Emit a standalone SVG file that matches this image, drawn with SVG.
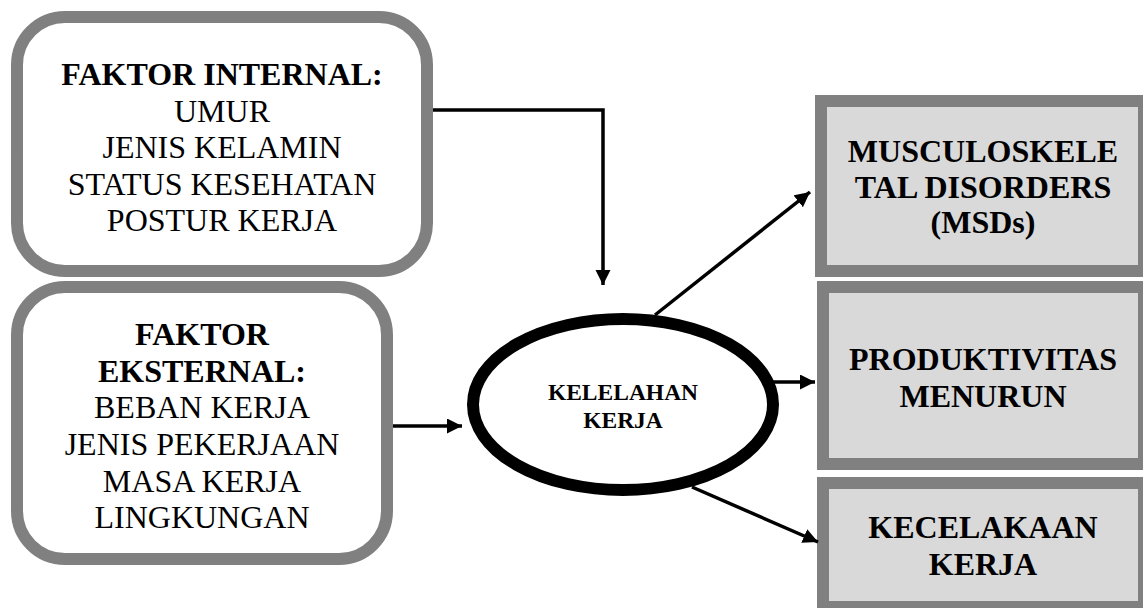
<svg xmlns="http://www.w3.org/2000/svg" width="1143" height="608" viewBox="0 0 1143 608">
<style>
.rbox{fill:#ffffff;stroke:#808080;stroke-width:12}
.sbox{fill:#d9d9d9;stroke:#808080;stroke-width:12}
text{font-family:'Liberation Serif','Times New Roman',serif;font-size:32px;fill:#000;text-anchor:middle}
.b{font-weight:bold}
.s{font-size:23.5px}
.conn{fill:none;stroke:#000;stroke-width:3.5}
</style>
<defs>
<marker id="arr" markerUnits="userSpaceOnUse" markerWidth="16" markerHeight="16" refX="15" refY="7.5" orient="auto">
<path d="M0,0 L15,7.5 L0,15 z" fill="#000"/>
</marker>
</defs>
<rect width="1143" height="608" fill="#fff"/>
<g id="internal">
<rect class="rbox" x="17" y="17" width="410" height="254" rx="48"/>
<text class="b" x="222" y="85">FAKTOR INTERNAL:</text>
<text x="222" y="122">UMUR</text>
<text x="222" y="158">JENIS KELAMIN</text>
<text x="222" y="195">STATUS KESEHATAN</text>
<text x="222" y="231">POSTUR KERJA</text>
</g>
<g id="external">
<rect class="rbox" x="17" y="287" width="370" height="272" rx="48"/>
<text class="b" x="202" y="345">FAKTOR</text>
<text class="b" x="202" y="382">EKSTERNAL:</text>
<text x="202" y="418">BEBAN KERJA</text>
<text x="202" y="455">JENIS PEKERJAAN</text>
<text x="202" y="492">MASA KERJA</text>
<text x="202" y="528">LINGKUNGAN</text>
</g>
<g id="kelelahan">
<ellipse cx="623" cy="404.5" rx="150" ry="85.5" fill="#fff" stroke="#000" stroke-width="12"/>
<text class="b s" x="623" y="400">KELELAHAN</text>
<text class="b s" x="623" y="428">KERJA</text>
</g>
<g id="msds">
<rect class="sbox" x="821" y="101" width="323" height="170"/>
<text class="b" x="983" y="162">MUSCULOSKELE</text>
<text class="b" x="983" y="198">TAL DISORDERS</text>
<text class="b" x="983" y="233">(MSDs)</text>
</g>
<g id="produktivitas">
<rect class="sbox" x="823" y="287" width="321" height="177"/>
<text class="b" x="983" y="370">PRODUKTIVITAS</text>
<text class="b" x="983" y="407">MENURUN</text>
</g>
<g id="kecelakaan">
<rect class="sbox" x="823" y="483" width="321" height="124"/>
<text class="b" x="983" y="538">KECELAKAAN</text>
<text class="b" x="983" y="575">KERJA</text>
</g>
<g id="connectors">
<polyline class="conn" points="433,110 603,110 603,285" marker-end="url(#arr)"/>
<line class="conn" x1="393" y1="426" x2="462" y2="426" marker-end="url(#arr)"/>
<line class="conn" x1="655" y1="315" x2="810" y2="192" marker-end="url(#arr)"/>
<line class="conn" x1="773" y1="382" x2="815" y2="382" marker-end="url(#arr)"/>
<line class="conn" x1="692" y1="487" x2="818" y2="542" marker-end="url(#arr)"/>
</g>
</svg>
